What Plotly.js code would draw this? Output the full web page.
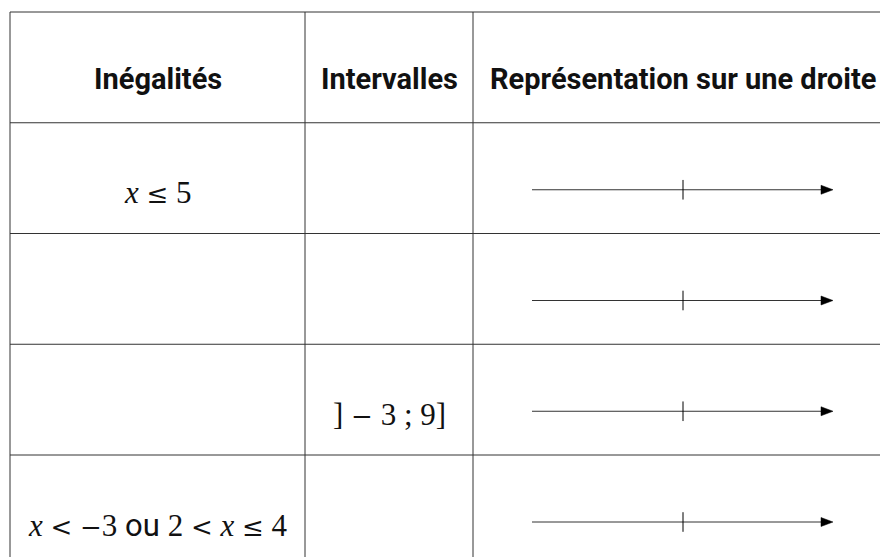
<!DOCTYPE html>
<html>
<head>
<meta charset="utf-8">
<script src="https://cdn.plot.ly/plotly-3.0.1.min.js"></script>
<style>html,body{margin:0;padding:0;background:#fff}#chart{width:880px;height:557px}</style>
</head>
<body>
<div id="chart"></div>
<script>
// table contents
const headers = ['Inégalités', 'Intervalles', 'Représentation sur une droite'];
const inegalites = ['x ≤ 5', '', '', 'x < − 3 ou 2 < x ≤ 4'];
const intervalles = ['', '', '] − 3 ; 9]', ''];
// graduations on each number line (0 = middle of the line, unlabelled)
const graduations = [[0], [0], [0], [0]];

// table geometry (pixels)
const colEdges = [10, 305, 473, 893];
const rowTop = 12, rowH = 110.75, nRows = 1 + inegalites.length;
const midOff = 67;                       // text/line centre below a row's top edge
const lineHalf = 151, headLen = 12, headHalf = 4.5;
const gridColor = '#333';
const mathFont = {family: 'Liberation Serif', size: 31, color: '#111'};
const headFont = {family: 'Roboto', size: 29, weight: 700, color: '#111'};

// LaTeX-ish look: italic variable, wider relation symbols, sans "ou"
function mathText(s) {
  const out = [];
  s.split(' ').forEach((tok, i, arr) => {
    let t;
    if (tok === 'x') t = '<i>x</i>';
    else if (tok === '≤' || tok === '<' || tok === '−')
      t = '<span style="font-family:DejaVu Serif;font-size:26px">' + (tok === '<' ? '&lt;' : tok) + '</span>';
    else if (tok === 'ou') t = '<span style="font-family:Roboto">ou</span>';
    else t = tok;
    // unary minus sticks to its number
    out.push(t + (arr[i - 1] === '<' && tok === '−' ? '' : ' '));
  });
  return out.join('').trim();
}

const colMid = i => (colEdges[i] + colEdges[i + 1]) / 2;
const rowMid = r => rowTop + r * rowH + midOff;

// grid
const shapes = [];
for (let r = 0; r <= nRows; r++) {
  const y = rowTop + r * rowH;
  shapes.push({type: 'line', xref: 'x', yref: 'y', x0: colEdges[0], x1: colEdges[3], y0: y, y1: y,
    line: {color: gridColor, width: 1}});
}
for (let c = 0; c < 3; c++) {
  shapes.push({type: 'line', xref: 'x', yref: 'y', x0: colEdges[c], x1: colEdges[c], y0: rowTop, y1: rowTop + nRows * rowH,
    line: {color: gridColor, width: 1}});
}

// text cells
const annotations = [];
headers.forEach((h, c) => annotations.push({x: colMid(c), y: rowMid(0), xref: 'x', yref: 'y',
  text: h, showarrow: false, xanchor: 'center', yanchor: 'middle', font: headFont}));
inegalites.forEach((t, r) => { if (t) annotations.push({x: colMid(0), y: rowMid(r + 1) + 3, xref: 'x', yref: 'y',
  text: mathText(t), showarrow: false, xanchor: 'center', yanchor: 'middle', font: {...mathFont}}); });
intervalles.forEach((t, r) => { if (t) annotations.push({x: colMid(1), y: rowMid(r + 1) + 3, xref: 'x', yref: 'y',
  text: mathText(t), showarrow: false, xanchor: 'center', yanchor: 'middle', font: {...mathFont}}); });

// number lines
const lx = [], ly = [], hx = [], hy = [], tx = [], ty = [];
graduations.forEach((g, r) => {
  const cx = colMid(2), y = rowMid(r + 1);
  const x0 = cx - lineHalf, tip = cx + lineHalf - 1;
  lx.push(x0, tip - headLen + 1, null); ly.push(y, y, null);
  hx.push(tip - headLen, tip, tip - headLen, tip - headLen, null);
  hy.push(y - headHalf, y, y + headHalf, y - headHalf, null);
  g.forEach(v => { tx.push(cx + v); ty.push(y); });
});

const traces = [
  {type: 'scatter', mode: 'lines', x: lx, y: ly, line: {color: '#333', width: 1}, hoverinfo: 'skip'},
  {type: 'scatter', mode: 'lines', x: hx, y: hy, fill: 'toself', fillcolor: '#000',
    line: {color: '#000', width: 0.5}, hoverinfo: 'skip'},
  {type: 'scatter', mode: 'markers', x: tx, y: ty, hoverinfo: 'skip',
    marker: {symbol: 'line-ns', size: 14, line: {color: '#000', width: 1}}}
];

Plotly.newPlot('chart', traces, {
  width: 880, height: 557,
  margin: {l: 0, r: 0, t: 0, b: 0},
  paper_bgcolor: '#fff', plot_bgcolor: '#fff',
  showlegend: false,
  xaxis: {range: [0, 880], visible: false, fixedrange: true},
  yaxis: {range: [557, 0], visible: false, fixedrange: true},
  shapes: shapes,
  annotations: annotations
}, {displayModeBar: false, staticPlot: true});
</script>
</body>
</html>
